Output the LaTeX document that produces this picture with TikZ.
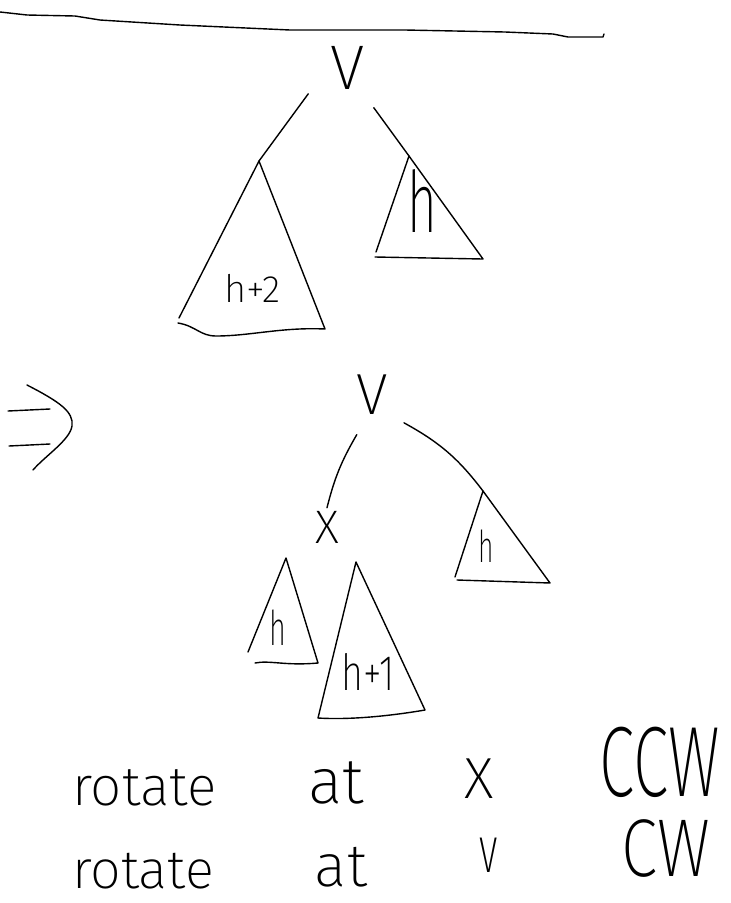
\documentclass[tikz,border=0pt]{standalone}
\usepackage{fontspec}
\setmainfont{Fira Sans ExtraLight}
\usetikzlibrary{positioning}

\begin{document}
\begin{tikzpicture}[
  x=1pt, y=1pt,
  pen/.style={draw=black, line width=1.4pt, line cap=round, line join=round},
  hand/.style={font=\fontsize{#1}{#1}\selectfont, inner sep=0pt},
  vert/.style={circle, inner sep=#1},
]
  \useasboundingbox[fill=white] (0,0) rectangle (731,-903);

  % rule at the top
  \draw[pen] (0,-12) -- (27,-15) -- (75,-16) -- (100,-20) -- (180,-25) -- (290,-30)
    -- (405,-30) -- (505,-32) -- (553,-34) -- (568,-37) -- (603,-37) -- (604,-34);

  % before: left subtree two taller
  \node[hand=63, vert=14pt] (vtop) at (348,-68) {V};
  \coordinate (ltop) at (259,-161);
  \coordinate (rtop) at (409,-156);
  \draw[pen] (vtop.-147) -- (ltop);
  \draw[pen] (vtop.-57) -- (rtop);
  \draw[pen] (ltop) -- (179,-318)
    (178,-323) .. controls (196,-326) and (200,-336) .. (216,-336)
    .. controls (250,-336) and (282,-327) .. (325,-329) -- (ltop);
  \draw[pen] (rtop) -- (376,-252) (375,-257) -- (483,-259) -- (rtop);
  \node[hand=38] (htwo) at (252,-288) {h+2};
  \node[hand=85] (hright) at (422,-201) {\scalebox{0.6}[1]{h}};

  % implies
  \draw[pen] (8,-411) -- (50,-409) (9,-446) -- (50,-444);
  \draw[pen] (27,-385) .. controls (60,-402) and (74,-412) .. (72,-426)
    .. controls (70,-440) and (45,-456) .. (33,-470);

  % after
  \node[hand=58, vert=12pt] (vbot) at (372,-395) {V};
  \node[hand=47, inner sep=3pt] (xn) at (327,-527) {X};
  \coordinate (rbot) at (483,-491);
  \coordinate (lsub) at (286,-558);
  \coordinate (msub) at (356,-562);
  \draw[pen] (vbot.-111) to[bend right=8] (xn.north);
  \draw[pen] (vbot.-41) to[bend left=12] (rbot);
  \draw[pen] (rbot) -- (455,-577) (457,-580) -- (550,-583) -- (rbot);
  \draw[pen] (lsub) -- (248,-652)
    (255,-663) .. controls (270,-660) and (285,-666) .. (318,-663) -- (lsub);
  \draw[pen] (msub) -- (318,-718) .. controls (350,-720) and (390,-716) .. (425,-710) -- (msub);
  \node[hand=44] (hrb) at (486,-546) {\scalebox{0.6}[1]{h}};
  \node[hand=48] (hlb) at (278,-628) {\scalebox{0.6}[1]{h}};
  \node[hand=50] (hone) at (368,-672) {\scalebox{0.75}[1]{h+1}};

  % the two rotations
  \node[hand=55, anchor=base west] (rot1) at (72,-805) {rotate};
  \node[hand=64, anchor=base] (at1) at (336,-803) {at};
  \node[hand=58] (xlbl) at (479,-779) {X};
  \node[hand=100] (ccw) at (660,-762) {\scalebox{0.64}[1]{CCW}};
  \node[hand=54, anchor=base west] (rot2) at (72,-888) {rotate};
  \node[hand=60, anchor=base] (at2) at (341,-886) {at};
  \node[hand=66] (vlbl) at (489,-855) {\scalebox{0.6}[1]{v}};
  \node[hand=82] (cw) at (666,-848) {\scalebox{0.8}[1]{CW}};
\end{tikzpicture}
\end{document}
